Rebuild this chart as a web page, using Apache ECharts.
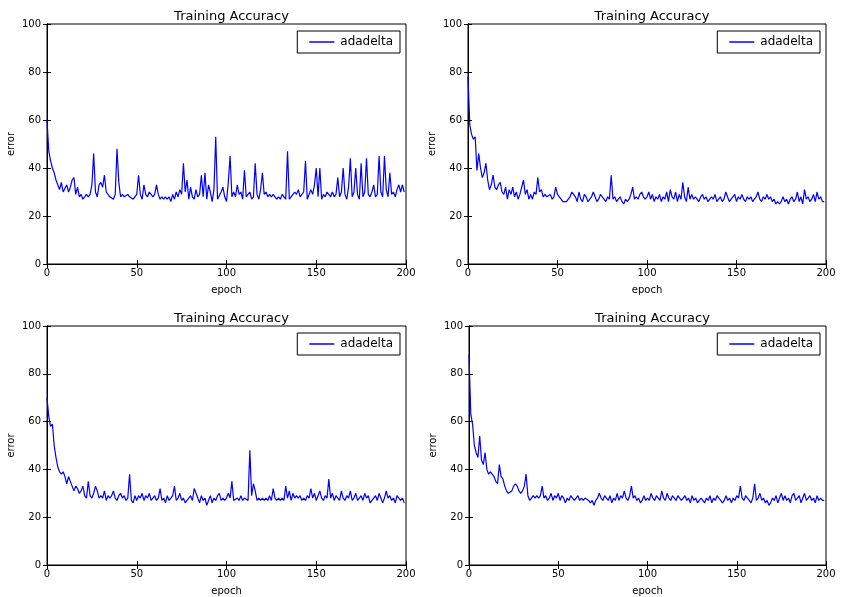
<!DOCTYPE html>
<html><head><meta charset="utf-8">
<script src="https://cdn.jsdelivr.net/npm/echarts@6/dist/echarts.min.js"></script>
<style>html,body{margin:0;padding:0;background:#fff}#c{width:841px;height:597px}</style>
</head><body><div id="c"></div>
<script>
var seriesName = 'adadelta';
var titleText = 'Training Accuracy';
var xTicks = [0, 50, 100, 150, 200];
var yTicks = [0, 20, 40, 60, 80, 100];

var errA = [60,47,43,40,38,35,33,31,34,30,30,33,30,32,35,36,29,32,28,29,27,28,29,28,29,33,46,30,28,33,
34,32,37,30,29,28,28,27,29,48,34,28,29,28,28,29,28,28,27,27,29,37,29,27,33,29,28,30,29,28,
29,33,29,27,28,27,28,27,28,26,29,27,30,28,31,29,42,30,35,27,32,28,27,31,28,29,37,28,38,27,
33,30,26,31,53,27,27,30,32,28,26,34,45,28,30,28,33,29,30,27,39,28,29,30,27,28,42,29,27,31,
38,29,30,28,29,28,29,28,27,28,27,29,28,27,47,27,28,29,30,29,31,28,29,30,43,27,27,31,29,33,
40,28,40,27,29,28,30,29,28,30,28,29,36,28,30,40,29,27,32,44,28,30,40,29,27,42,28,30,44,29,
28,30,33,28,29,45,30,28,45,31,28,38,29,30,28,31,33,30,33,30];

var errB = [78,58,54,52,53,39,46,40,36,38,42,35,31,33,37,32,31,33,34,30,29,32,27,31,29,32,28,30,27,29,
32,35,29,31,27,29,27,30,29,36,30,31,28,29,28,28,29,27,28,32,29,28,27,26,26,26,27,28,30,29,
28,26,30,27,26,29,28,26,27,28,30,28,26,27,29,28,27,26,28,27,37,27,28,26,27,28,26,25,27,26,
27,29,32,27,28,27,29,30,28,27,28,30,27,29,26,28,27,29,26,28,27,30,26,31,28,27,30,26,29,27,
34,28,26,32,27,29,27,28,27,26,28,29,27,28,26,27,28,27,29,26,27,28,26,27,30,28,26,27,28,29,
26,28,27,29,27,26,28,27,28,26,27,28,30,27,26,28,27,29,27,28,26,27,25,26,25,26,28,26,27,25,
27,28,26,27,30,26,28,25,31,27,28,26,27,29,26,30,27,28,26,26];

var errC = [70,62,58,59,50,45,41,39,38,39,37,34,37,35,33,31,33,32,30,31,33,29,28,35,29,28,30,33,31,28,
29,28,31,27,29,28,29,31,28,27,29,30,28,29,27,28,38,27,26,29,27,29,28,30,27,29,28,30,27,28,
29,27,28,32,27,28,26,29,27,28,29,33,27,28,30,27,28,26,27,28,29,27,32,30,28,26,29,27,28,25,
27,29,26,28,27,29,30,27,28,27,28,30,28,35,27,27,28,27,29,27,28,28,27,48,29,34,31,27,28,27,
28,27,28,27,29,27,32,28,27,28,27,28,27,33,28,31,27,30,28,29,28,29,27,28,27,29,28,32,28,30,
27,29,31,28,27,29,28,36,28,30,27,29,28,27,31,28,27,29,28,31,27,28,30,27,28,29,27,30,28,29,
26,27,28,29,27,30,28,26,28,31,28,29,27,28,26,29,28,27,28,26];

var errD = [88,63,59,50,47,45,54,44,42,47,40,38,39,38,37,35,34,42,37,36,33,31,30,30,31,33,34,33,31,30,
31,33,38,29,27,28,29,28,29,28,29,33,28,29,27,28,30,27,29,28,30,27,29,28,26,28,27,29,28,27,
28,29,27,28,27,28,28,27,26,27,25,27,28,30,28,27,29,28,27,29,26,28,27,30,27,29,28,31,28,27,
29,33,28,29,27,28,26,27,29,27,28,27,30,28,27,29,28,27,31,28,27,30,28,27,29,28,27,29,28,27,
28,29,27,28,26,29,27,28,26,27,28,27,26,28,27,29,26,28,27,29,28,27,26,27,29,27,28,26,28,27,
29,28,33,28,27,29,28,27,26,28,34,27,28,30,27,28,26,27,25,26,28,27,29,26,28,30,27,29,27,28,
26,29,30,27,28,29,26,28,30,27,28,29,27,28,26,29,27,28,27,27];

var allData = [errA, errB, errC, errD];
var grids = [
  {left: 47, top: 24, width: 359, height: 240},
  {left: 468, top: 24, width: 358, height: 240},
  {left: 47, top: 326, width: 359, height: 239},
  {left: 469, top: 326, width: 357, height: 239}
];
var FONT = 'DejaVu Sans';
var option = {
  backgroundColor: '#fff',
  animation: false,
  textStyle: {fontFamily: FONT},
  title: [], legend: [], grid: [], xAxis: [], yAxis: [], series: []
};
grids.forEach(function (g, i) {
  option.grid.push({left: g.left, top: g.top, width: g.width, height: g.height,
    show: true, borderColor: '#000', borderWidth: 1, backgroundColor: 'transparent', containLabel: false});
  option.title.push({text: titleText, left: g.left + g.width / 2, top: g.top - 19, textAlign: 'center',
    textStyle: {fontFamily: FONT, fontSize: 13, fontWeight: 'normal', color: '#000'}});
  var tickCommon = {show: true, inside: true, length: 4, lineStyle: {color: '#000'}};
  option.xAxis.push({type: 'value', gridIndex: i, min: xTicks[0], max: xTicks[xTicks.length - 1], interval: 50,
    position: 'bottom', name: 'epoch', nameLocation: 'middle', nameGap: 21,
    nameTextStyle: {fontFamily: FONT, fontSize: 10, color: '#000'},
    axisLine: {show: true, lineStyle: {color: '#000'}}, axisTick: tickCommon,
    axisLabel: {color: '#000', fontSize: 10, fontFamily: FONT, margin: 4}, splitLine: {show: false}});
  option.xAxis.push({type: 'value', gridIndex: i, min: xTicks[0], max: xTicks[xTicks.length - 1], interval: 50,
    position: 'top', axisLine: {show: true, lineStyle: {color: '#000'}}, axisTick: tickCommon,
    axisLabel: {show: false}, splitLine: {show: false}});
  option.yAxis.push({type: 'value', gridIndex: i, min: yTicks[0], max: yTicks[yTicks.length - 1], interval: 20,
    position: 'left', name: 'error', nameLocation: 'middle', nameGap: 31,
    nameTextStyle: {fontFamily: FONT, fontSize: 10, color: '#000'},
    axisLine: {show: true, lineStyle: {color: '#000'}}, axisTick: tickCommon,
    axisLabel: {color: '#000', fontSize: 10, fontFamily: FONT, margin: 6}, splitLine: {show: false}});
  option.yAxis.push({type: 'value', gridIndex: i, min: yTicks[0], max: yTicks[yTicks.length - 1], interval: 20,
    position: 'right', axisLine: {show: true, lineStyle: {color: '#000'}}, axisTick: tickCommon,
    axisLabel: {show: false}, splitLine: {show: false}});
  option.legend.push({data: [{name: seriesName, icon: 'rect'}], right: 841 - (g.left + g.width) + 6, top: g.top + 7,
    orient: 'vertical', itemWidth: 25, itemHeight: 1.5, itemGap: 4,
    borderColor: '#000', borderWidth: 1, padding: [5, 7, 5, 12], backgroundColor: '#fff',
    textStyle: {fontFamily: FONT, fontSize: 12, color: '#000', padding: [1, 0, 0, 1]}});
  option.series.push({type: 'line', name: seriesName, xAxisIndex: i * 2, yAxisIndex: i * 2,
    data: allData[i].map(function (v, k) { return [k, v]; }),
    showSymbol: false, symbol: 'none', lineStyle: {color: '#0000ff', width: 1.2}, itemStyle: {color: '#0000ff'}});
});
var chart = echarts.init(document.getElementById('c'), null, {renderer: 'canvas'});
chart.setOption(option);
</script>
</body></html>
